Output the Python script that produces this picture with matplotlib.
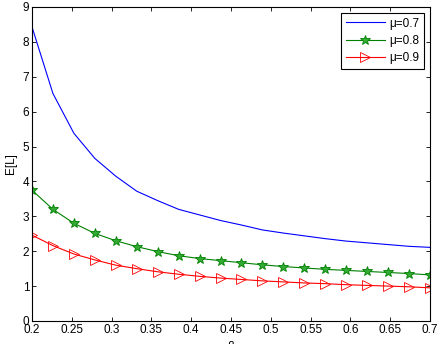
import numpy as np
import matplotlib
matplotlib.use('Agg')
import matplotlib.pyplot as plt

plt.rcParams['font.family'] = ['Liberation Sans', 'DejaVu Sans']

# Datos
beta = np.linspace(0.2, 0.7, 20)
el_07 = [8.43, 6.52, 5.38, 4.66, 4.15, 3.72, 3.45, 3.20, 3.04, 2.88,
         2.75, 2.61, 2.52, 2.44, 2.36, 2.29, 2.24, 2.19, 2.14, 2.11]
el_08 = [3.75, 3.20, 2.80, 2.51, 2.30, 2.13, 1.99, 1.87, 1.79, 1.73,
         1.67, 1.61, 1.56, 1.52, 1.48, 1.45, 1.42, 1.39, 1.36, 1.32]
el_09 = [2.46, 2.16, 1.92, 1.75, 1.60, 1.50, 1.41, 1.34, 1.28, 1.23,
         1.19, 1.15, 1.12, 1.09, 1.07, 1.04, 1.02, 1.00, 0.98, 0.95]
xticks = [0.2, 0.25, 0.3, 0.35, 0.4, 0.45, 0.5, 0.55, 0.6, 0.65, 0.7]
xticklabels = ['0.2', '0.25', '0.3', '0.35', '0.4', '0.45', '0.5', '0.55', '0.6', '0.65', '0.7']

fig = plt.figure(figsize=(4.37, 3.44), dpi=100)
ax = fig.add_axes([0.0732, 0.0669, 0.9108, 0.9128])

ax.plot(beta, el_07, color='#0000ff', linewidth=0.8, label='μ=0.7')
ax.plot(beta, el_08, color='#008000', linewidth=0.8, marker='*', markersize=7,
        markerfacecolor='#33aa33', markeredgecolor='#008000', markeredgewidth=0.6, label='μ=0.8')
ax.plot(beta, el_09, color='#ff0000', linewidth=0.8, marker='>', markersize=7,
        markerfacecolor='none', markeredgecolor='#ff0000', markeredgewidth=0.6, label='μ=0.9')

ax.set_xlim(0.2, 0.7)
ax.set_ylim(0, 9)
ax.set_xticks(xticks)
ax.set_xticklabels(xticklabels)
ax.set_yticks(range(10))
ax.tick_params(direction='in', top=True, right=True, labelsize=8.5, length=3, width=0.6, pad=2)
for s in ax.spines.values():
    s.set_linewidth(0.8)
ax.set_ylabel('E[L]', fontsize=8.5, labelpad=4)
ax.set_xlabel('β', fontsize=8.5, labelpad=4)

leg = ax.legend(loc='upper right', fontsize=8.5, fancybox=False, framealpha=1,
                edgecolor='black', borderaxespad=0.5, handlelength=3.3,
                labelspacing=0.45, borderpad=0.4, handletextpad=0.4)
leg.get_frame().set_linewidth(0.8)

fig.savefig('out.png', dpi=100)
